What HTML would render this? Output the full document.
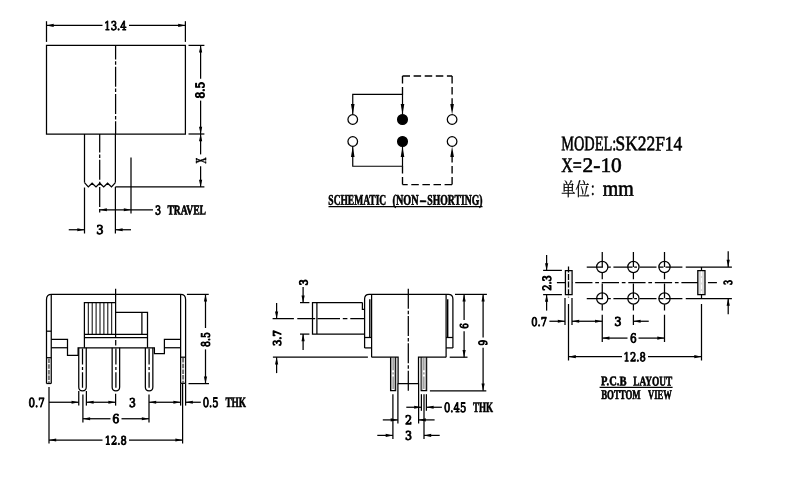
<!DOCTYPE html>
<html lang="zh">
<head>
<meta charset="utf-8">
<title>SK22F14 slide switch drawing</title>
<style>
html,body{margin:0;padding:0;background:#fff;}
body{width:800px;height:480px;overflow:hidden;}
svg{display:block;filter:grayscale(1);}
svg line,svg path,svg circle,svg rect{stroke:#000;stroke-width:1.25;fill:none;}
svg .a{stroke:none;fill:#000;}
svg text{fill:#000;stroke:none;text-rendering:geometricPrecision;font-family:"Liberation Serif","Noto Serif CJK SC",serif;}
svg text.b{font-family:"DejaVu Serif","Liberation Serif",serif;stroke:#000;stroke-width:.9px;stroke-linejoin:round;}
svg text.v{stroke-width:1.05px;}
svg text.l{font-weight:bold;stroke:#000;stroke-width:.6px;stroke-linejoin:round;}
svg tspan.d{font-family:"DejaVu Serif","Liberation Serif",serif;font-weight:normal;stroke-width:.9px;font-size:.9em;}
svg text.m{stroke:#000;stroke-width:.6px;stroke-linejoin:round;}
svg text.r{font-weight:normal;stroke:#000;stroke-width:.2px;}
</style>
</head>
<body>
<svg width="800" height="480" viewBox="0 0 800 480">
<rect x="0" y="0" width="800" height="480" style="fill:#fff;stroke:none"/>
<!-- top view -->
<path d="M46.5 45.4H185.4V134H46.5Z"/>
<line x1="115.6" y1="45.4" x2="115.6" y2="134" stroke-dasharray="20 1.9 3.5 1.9" stroke-dashoffset="6"/>
<line x1="84.5" y1="134" x2="84.5" y2="182.6"/>
<line x1="115.4" y1="134" x2="115.4" y2="182.6"/>
<path d="M84.5 182.6L88.3 186.9L92.1 183.2L96 186.9L99.8 183.2L103.7 186.9L107.6 183.2L111.5 186.9L115.4 182.6"/>
<line x1="99.7" y1="134" x2="99.7" y2="213.5" stroke-dasharray="20 1.9 3.5 1.9" stroke-dashoffset="1.5"/>
<line x1="84.5" y1="187.5" x2="84.5" y2="233.5"/>
<line x1="115.4" y1="186.9" x2="115.4" y2="233.5"/>
<line x1="115.4" y1="186.9" x2="204.4" y2="186.9"/>
<line x1="131" y1="157.5" x2="131" y2="213.5"/>
<line x1="99.7" y1="209.75" x2="153" y2="209.75"/>
<polygon class="a" points="99.7,209.75 106.9,208.15 106.9,211.35"/>
<polygon class="a" points="131,209.75 123.8,208.15 123.8,211.35"/>
<text class="l" transform="rotate(.05 155.11 214.41)" y="214.41" font-size="13.59"><tspan class="d" x="155.11" textLength="6.09" lengthAdjust="spacingAndGlyphs">3</tspan> <tspan x="167.4" textLength="38.61" lengthAdjust="spacingAndGlyphs">TRAVEL</tspan></text>
<line x1="68.75" y1="229.75" x2="84.5" y2="229.75"/>
<polygon class="a" points="84.5,229.75 77.3,228.15 77.3,231.35"/>
<line x1="115.4" y1="229.75" x2="131" y2="229.75"/>
<polygon class="a" points="115.4,229.75 122.6,228.15 122.6,231.35"/>
<text class="b" transform="rotate(.05 96.19 234.04)" x="96.19" y="234.04" font-size="12.24" textLength="7.41" lengthAdjust="spacingAndGlyphs">3</text>
<line x1="46.5" y1="21.2" x2="46.5" y2="41.9"/>
<line x1="185.4" y1="21.2" x2="185.4" y2="41.9"/>
<line x1="46.5" y1="25.4" x2="102.5" y2="25.4"/>
<line x1="129" y1="25.4" x2="185.4" y2="25.4"/>
<polygon class="a" points="46.5,25.4 53.7,23.8 53.7,27"/>
<polygon class="a" points="185.4,25.4 178.2,23.8 178.2,27"/>
<text class="b" transform="rotate(.05 104.34 29.92)" x="104.34" y="29.92" font-size="12.05" textLength="22.28" lengthAdjust="spacingAndGlyphs">13.4</text>
<line x1="188.5" y1="45.4" x2="204.4" y2="45.4"/>
<line x1="188.5" y1="134" x2="204.4" y2="134"/>
<line x1="200.6" y1="45.4" x2="200.6" y2="78.75"/>
<line x1="200.6" y1="100.6" x2="200.6" y2="134"/>
<polygon class="a" points="200.6,45.4 199,52.6 202.2,52.6"/>
<polygon class="a" points="200.6,134 199,126.8 202.2,126.8"/>
<text class="b v" transform="translate(204.16 98.57) rotate(-89.95)" font-size="11.88" textLength="16.87" lengthAdjust="spacingAndGlyphs">8.5</text>
<line x1="200.6" y1="134" x2="200.6" y2="154.4"/>
<line x1="200.6" y1="166.25" x2="200.6" y2="186.9"/>
<polygon class="a" points="200.6,134 199,141.2 202.2,141.2"/>
<polygon class="a" points="200.6,186.9 199,179.7 202.2,179.7"/>
<text class="l v" transform="translate(205.66 163.61) rotate(-89.95)" font-size="15.14" textLength="5.86" lengthAdjust="spacingAndGlyphs">X</text>
<!-- schematic -->
<circle cx="352.75" cy="119.5" r="4.8"/>
<circle cx="452.1" cy="119.5" r="4.8"/>
<circle cx="402.5" cy="119.5" r="4.9" style="fill:#000"/>
<circle cx="352.75" cy="141.5" r="4.8"/>
<circle cx="452.1" cy="141.5" r="4.8"/>
<circle cx="402.5" cy="141.5" r="4.9" style="fill:#000"/>
<path d="M352.75 114.2V94.4H402.5V114.2" style="stroke-width:1.2"/>
<path d="M352.75 146.8V166.25H402.5V146.8" style="stroke-width:1.2"/>
<line x1="402.5" y1="76" x2="452.1" y2="76" style="stroke-width:1.35" stroke-dasharray="7.5 3.6"/>
<line x1="402.5" y1="76" x2="402.5" y2="94.4" style="stroke-width:1.35" stroke-dasharray="7.5 3.6"/>
<line x1="452.1" y1="76" x2="452.1" y2="105" style="stroke-width:1.35" stroke-dasharray="7.5 3.6"/>
<line x1="452.1" y1="184.6" x2="402.5" y2="184.6" style="stroke-width:1.35" stroke-dasharray="7.5 3.6"/>
<line x1="402.5" y1="184.6" x2="402.5" y2="166.25" style="stroke-width:1.35" stroke-dasharray="7.5 3.6"/>
<line x1="452.1" y1="184.6" x2="452.1" y2="156" style="stroke-width:1.35" stroke-dasharray="7.5 3.6"/>
<polygon class="a" points="352.75,114.4 350.95,103.9 354.55,103.9"/>
<polygon class="a" points="352.75,146.6 350.95,157.1 354.55,157.1"/>
<polygon class="a" points="402.5,114.4 400.7,103.9 404.3,103.9"/>
<polygon class="a" points="402.5,146.6 400.7,157.1 404.3,157.1"/>
<polygon class="a" points="452.1,114.4 450.3,103.9 453.9,103.9"/>
<polygon class="a" points="452.1,146.6 450.3,157.1 453.9,157.1"/>
<text class="l" transform="rotate(.05 328.35 204.65)" y="204.65" font-size="14.7"><tspan x="328.35" textLength="57.85" lengthAdjust="spacingAndGlyphs">SCHEMATIC</tspan> <tspan x="392.6" textLength="26.1" lengthAdjust="spacingAndGlyphs">(NON</tspan><tspan x="419.4" textLength="7.2" lengthAdjust="spacingAndGlyphs">-</tspan><tspan x="427.3" textLength="55.2" lengthAdjust="spacingAndGlyphs">SHORTING)</tspan></text>
<line x1="328.5" y1="206.6" x2="482.5" y2="206.6"/>
<!-- model text -->
<text class="m" transform="rotate(.05 561 150)" y="150.3" font-size="20.6"><tspan x="561.2" textLength="55" lengthAdjust="spacingAndGlyphs">MODEL:</tspan><tspan x="615.6" textLength="66.6" lengthAdjust="spacingAndGlyphs">SK22F14</tspan></text>
<text class="m" transform="rotate(.05 561 172)" y="171.9" font-size="20.6"><tspan x="561.2" textLength="20.6" lengthAdjust="spacingAndGlyphs">X=</tspan><tspan x="582.6" textLength="39.2" lengthAdjust="spacingAndGlyphs">2-10</tspan></text>
<text class="m" transform="rotate(.05 561 196)" y="195.8" font-size="18.6"><tspan x="561.3" textLength="42.5" lengthAdjust="spacingAndGlyphs" style="stroke-width:.3px">单位：</tspan><tspan x="602.8" font-size="22" textLength="31" lengthAdjust="spacingAndGlyphs">mm</tspan></text>
<!-- front view -->
<path d="M46.5 383.5V299.4Q46.5 294.4 51.5 294.4H180.6Q185.6 294.4 185.6 299.4V383.3"/>
<line x1="51.25" y1="294.6" x2="51.25" y2="383.5"/>
<line x1="180.6" y1="294.6" x2="180.6" y2="383.3"/>
<line x1="46.5" y1="331.2" x2="51.25" y2="331.2"/>
<line x1="46.5" y1="357.7" x2="51.25" y2="357.7"/>
<line x1="180.6" y1="357.2" x2="185.6" y2="357.2"/>
<line x1="46.5" y1="383.5" x2="51.25" y2="383.5"/>
<line x1="180.6" y1="383.3" x2="185.6" y2="383.3"/>
<line x1="48.9" y1="358.5" x2="48.9" y2="383" style="stroke-width:2;stroke:#777" stroke-dasharray="4.5 1.2"/>
<line x1="183.1" y1="358" x2="183.1" y2="383" style="stroke-width:2;stroke:#777" stroke-dasharray="4.5 1.2"/>
<line x1="115.6" y1="288.75" x2="115.6" y2="337.6"/>
<line x1="115.7" y1="340" x2="115.7" y2="345.6"/>
<path d="M84.4 347.75V302.5H115.6"/>
<line x1="88.3" y1="302.5" x2="88.3" y2="334.4" style="stroke-width:1"/>
<line x1="92.2" y1="302.5" x2="92.2" y2="334.4" style="stroke-width:1"/>
<line x1="96.1" y1="302.5" x2="96.1" y2="334.4" style="stroke-width:1"/>
<line x1="100" y1="302.5" x2="100" y2="334.4" style="stroke-width:1"/>
<line x1="103.9" y1="302.5" x2="103.9" y2="334.4" style="stroke-width:1"/>
<line x1="107.8" y1="302.5" x2="107.8" y2="334.4" style="stroke-width:1"/>
<line x1="111.7" y1="302.5" x2="111.7" y2="334.4" style="stroke-width:1"/>
<line x1="84.4" y1="334.4" x2="147.5" y2="334.4"/>
<line x1="84.4" y1="337.6" x2="147.5" y2="337.6"/>
<path d="M115.6 312.25H147.5V347.75"/>
<line x1="141.9" y1="312.25" x2="141.9" y2="334.4"/>
<path d="M51.25 339.4H67.5V355.4H78.1V347.75H154.4V353.5H164.4V339.4H180.6"/>
<line x1="51.25" y1="347.75" x2="67.5" y2="347.75"/>
<line x1="164.4" y1="347.75" x2="180.6" y2="347.75"/>
<path d="M78.75 347.75V387Q78.75 390.8 82.5 390.8Q86.25 390.8 86.25 387V347.75"/>
<line x1="82.5" y1="348.4" x2="82.5" y2="387.8" stroke-dasharray="16.2 2.3 3 2.3"/>
<path d="M112.15 347.75V387Q112.15 390.8 115.9 390.8Q119.65 390.8 119.65 387V347.75"/>
<line x1="115.9" y1="348.4" x2="115.9" y2="387.8" stroke-dasharray="16.2 2.3 3 2.3"/>
<path d="M145.35 347.75V387Q145.35 390.8 149.1 390.8Q152.85 390.8 152.85 387V347.75"/>
<line x1="149.1" y1="348.4" x2="149.1" y2="387.8" stroke-dasharray="16.2 2.3 3 2.3"/>
<line x1="49" y1="386.9" x2="49" y2="443.5"/>
<line x1="182.6" y1="383.3" x2="182.6" y2="443.5"/>
<line x1="78.75" y1="391" x2="78.75" y2="405.6"/>
<line x1="86.4" y1="391" x2="86.4" y2="405.6"/>
<line x1="82.9" y1="394.4" x2="82.9" y2="422.5"/>
<line x1="115.6" y1="393.75" x2="115.6" y2="405.6"/>
<line x1="149" y1="394.4" x2="149" y2="422.5"/>
<line x1="180.6" y1="383.3" x2="180.6" y2="405.6"/>
<line x1="185.6" y1="383.3" x2="185.6" y2="405.6"/>
<line x1="49" y1="402.25" x2="78.75" y2="402.25"/>
<polygon class="a" points="78.75,402.25 71.55,400.65 71.55,403.85"/>
<text class="b" transform="rotate(.05 28.5 406.99)" x="28.5" y="406.99" font-size="12.55" textLength="16.3" lengthAdjust="spacingAndGlyphs">0.7</text>
<line x1="86.4" y1="402.25" x2="115.6" y2="402.25"/>
<polygon class="a" points="86.4,402.25 93.6,400.65 93.6,403.85"/>
<polygon class="a" points="115.6,402.25 108.4,400.65 108.4,403.85"/>
<text class="b" transform="rotate(.05 129.07 407.02)" x="129.07" y="407.02" font-size="12.22" textLength="6.9" lengthAdjust="spacingAndGlyphs">3</text>
<line x1="149" y1="402.25" x2="180.6" y2="402.25"/>
<polygon class="a" points="149,402.25 156.2,400.65 156.2,403.85"/>
<polygon class="a" points="180.6,402.25 173.4,400.65 173.4,403.85"/>
<line x1="185.6" y1="402.25" x2="200.8" y2="402.25"/>
<polygon class="a" points="185.6,402.25 192.8,400.65 192.8,403.85"/>
<text class="l" transform="rotate(.05 202.72 406.98)" y="406.98" font-size="14.5"><tspan class="d" x="202.72" textLength="15.88" lengthAdjust="spacingAndGlyphs">0.5</tspan> <tspan x="225.4" textLength="20.68" lengthAdjust="spacingAndGlyphs">THK</tspan></text>
<line x1="82.9" y1="418.75" x2="110.5" y2="418.75"/>
<line x1="121.5" y1="418.75" x2="149" y2="418.75"/>
<polygon class="a" points="82.9,418.75 90.1,417.15 90.1,420.35"/>
<polygon class="a" points="149,418.75 141.8,417.15 141.8,420.35"/>
<text class="b" transform="rotate(.05 112.32 423.08)" x="112.32" y="423.08" font-size="12.18" textLength="7.21" lengthAdjust="spacingAndGlyphs">6</text>
<line x1="49" y1="440" x2="102.5" y2="440"/>
<line x1="129" y1="440" x2="182.6" y2="440"/>
<polygon class="a" points="49,440 56.2,438.4 56.2,441.6"/>
<polygon class="a" points="182.6,440 175.4,438.4 175.4,441.6"/>
<text class="b" transform="rotate(.05 104.85 444.48)" x="104.85" y="444.48" font-size="11.7" textLength="21.92" lengthAdjust="spacingAndGlyphs">12.8</text>
<line x1="186.9" y1="294.4" x2="208.75" y2="294.4"/>
<line x1="188.5" y1="383.6" x2="209" y2="383.6"/>
<line x1="205.5" y1="294.4" x2="205.5" y2="328"/>
<line x1="205.5" y1="349.4" x2="205.5" y2="383.6"/>
<polygon class="a" points="205.5,294.4 203.9,301.6 207.1,301.6"/>
<polygon class="a" points="205.5,383.6 203.9,376.4 207.1,376.4"/>
<text class="b v" transform="translate(209.63 346.9) rotate(-89.95)" font-size="11.71" textLength="14.78" lengthAdjust="spacingAndGlyphs">8.5</text>
<!-- side view -->
<path d="M362.4 302.6H312.5V334.1H364.6"/>
<path d="M362.4 302.6V309.3H364.6"/>
<line x1="316.9" y1="302.6" x2="316.9" y2="334.1"/>
<path d="M272.6 318.7H293.9M297.3 318.7H315.2M317.5 318.7H340M342.8 318.7H347.4M350.3 318.7H364.6"/>
<path d="M364.6 347.9V299Q364.6 294.4 369.2 294.4H448.3Q452.9 294.4 452.9 299V347.9"/>
<line x1="371.6" y1="294.4" x2="371.6" y2="357.2"/>
<line x1="446.1" y1="294.4" x2="446.1" y2="357.2"/>
<line x1="369.8" y1="299.2" x2="369.8" y2="337.5" style="stroke-width:1.4"/>
<line x1="447.7" y1="299.2" x2="447.7" y2="337.5" style="stroke-width:1.4"/>
<line x1="364.6" y1="337.5" x2="371.6" y2="337.5"/>
<line x1="446.1" y1="337.5" x2="452.9" y2="337.5"/>
<line x1="364.6" y1="347.9" x2="371.6" y2="347.9"/>
<line x1="446.1" y1="347.9" x2="452.9" y2="347.9"/>
<path d="M371.6 357.2H398.1V383.5H418.5V357.2H446.1"/>
<line x1="408.3" y1="288.75" x2="408.3" y2="391" stroke-dasharray="20 1.9 3.5 1.9"/>
<path d="M390.6 357.2V390.6H395.6V357.2"/>
<line x1="391.5" y1="358" x2="391.5" y2="390" style="stroke-width:0.9;stroke:#9a9a9a"/>
<line x1="394.7" y1="358" x2="394.7" y2="390" style="stroke-width:0.9;stroke:#9a9a9a"/>
<line x1="393.1" y1="357.8" x2="393.1" y2="390" style="stroke-width:1;stroke:#666" stroke-dasharray="12.5 2 2.2 2"/>
<path d="M421.2 357.2V390.6H426.6V357.2"/>
<line x1="422.1" y1="358" x2="422.1" y2="390" style="stroke-width:0.9;stroke:#9a9a9a"/>
<line x1="425.7" y1="358" x2="425.7" y2="390" style="stroke-width:0.9;stroke:#9a9a9a"/>
<line x1="423.9" y1="357.8" x2="423.9" y2="390" style="stroke-width:1;stroke:#666" stroke-dasharray="12.5 2 2.2 2"/>
<line x1="300" y1="302.6" x2="309.4" y2="302.6"/>
<line x1="300" y1="334.1" x2="309.4" y2="334.1"/>
<line x1="303.1" y1="286.9" x2="303.1" y2="302.6"/>
<polygon class="a" points="303.1,302.6 301.5,295.4 304.7,295.4"/>
<line x1="303.1" y1="334.1" x2="303.1" y2="350"/>
<polygon class="a" points="303.1,334.1 301.5,341.3 304.7,341.3"/>
<text class="b v" transform="translate(307.42 285.61) rotate(-89.95)" font-size="10.98" textLength="6.22" lengthAdjust="spacingAndGlyphs">3</text>
<line x1="272.9" y1="357.2" x2="367.9" y2="357.2"/>
<line x1="276.6" y1="303" x2="276.6" y2="318.7"/>
<polygon class="a" points="276.6,318.7 275,311.5 278.2,311.5"/>
<line x1="276.6" y1="357.2" x2="276.6" y2="373.1"/>
<polygon class="a" points="276.6,357.2 275,364.4 278.2,364.4"/>
<text class="b v" transform="translate(280.91 346.08) rotate(-89.95)" font-size="10.8" textLength="16" lengthAdjust="spacingAndGlyphs">3.7</text>
<line x1="455" y1="294.4" x2="486.9" y2="294.4"/>
<line x1="449.7" y1="357.2" x2="467.5" y2="357.2"/>
<line x1="429.9" y1="390.8" x2="486.3" y2="390.8"/>
<line x1="464.1" y1="294.4" x2="464.1" y2="320"/>
<line x1="464.1" y1="331.2" x2="464.1" y2="357.2"/>
<polygon class="a" points="464.1,294.4 462.5,301.6 465.7,301.6"/>
<polygon class="a" points="464.1,357.2 462.5,350 465.7,350"/>
<text class="b v" transform="translate(468.03 328.64) rotate(-89.95)" font-size="10.84" textLength="5.59" lengthAdjust="spacingAndGlyphs">6</text>
<line x1="483.1" y1="294.4" x2="483.1" y2="337.5"/>
<line x1="483.1" y1="347.8" x2="483.1" y2="390.8"/>
<polygon class="a" points="483.1,294.4 481.5,301.6 484.7,301.6"/>
<polygon class="a" points="483.1,390.8 481.5,383.6 484.7,383.6"/>
<text class="b v" transform="translate(487.11 345.55) rotate(-89.95)" font-size="11.4" textLength="5.59" lengthAdjust="spacingAndGlyphs">9</text>
<line x1="392.9" y1="394.2" x2="392.9" y2="439.1"/>
<line x1="424" y1="394.2" x2="424" y2="439.1"/>
<line x1="397.9" y1="383.5" x2="397.9" y2="423.5"/>
<line x1="418.6" y1="383.5" x2="418.6" y2="423.5"/>
<line x1="421.4" y1="394.2" x2="421.4" y2="410.8"/>
<line x1="426.4" y1="394.2" x2="426.4" y2="410.8"/>
<line x1="406.3" y1="407.25" x2="421.4" y2="407.25"/>
<polygon class="a" points="421.4,407.25 414.2,405.65 414.2,408.85"/>
<line x1="426.4" y1="407.25" x2="441.9" y2="407.25"/>
<polygon class="a" points="426.4,407.25 433.6,405.65 433.6,408.85"/>
<text class="l" transform="rotate(.05 443.92 412.07)" y="412.07" font-size="14.45"><tspan class="d" x="443.92" textLength="22.38" lengthAdjust="spacingAndGlyphs">0.45</tspan> <tspan x="473" textLength="20.18" lengthAdjust="spacingAndGlyphs">THK</tspan></text>
<line x1="382.8" y1="419.9" x2="397.9" y2="419.9"/>
<polygon class="a" points="397.9,419.9 390.7,418.3 390.7,421.5"/>
<line x1="418.6" y1="419.9" x2="434.6" y2="419.9"/>
<polygon class="a" points="418.6,419.9 425.8,418.3 425.8,421.5"/>
<text class="b" transform="rotate(.05 405.12 424.24)" x="405.12" y="424.24" font-size="12.37" textLength="7.2" lengthAdjust="spacingAndGlyphs">2</text>
<line x1="377.3" y1="435.4" x2="392.9" y2="435.4"/>
<polygon class="a" points="392.9,435.4 385.7,433.8 385.7,437"/>
<line x1="424" y1="435.4" x2="439.7" y2="435.4"/>
<polygon class="a" points="424,435.4 431.2,433.8 431.2,437"/>
<text class="b" transform="rotate(.05 404.98 439.78)" x="404.98" y="439.78" font-size="11.99" textLength="7.03" lengthAdjust="spacingAndGlyphs">3</text>
<!-- pcb layout -->
<circle cx="602.25" cy="267" r="5.6"/>
<circle cx="633.4" cy="267" r="5.6"/>
<circle cx="664.5" cy="267" r="5.6"/>
<path d="M586.75 267H603M608 267H610.8M613.4 267H632.5M634.2 267H637M639.5 267H656.5M658.6 267H663.5M665.5 267H682.4M685.75 267H731.9"/>
<circle cx="602.25" cy="298.5" r="5.6"/>
<circle cx="633.4" cy="298.5" r="5.6"/>
<circle cx="664.5" cy="298.5" r="5.6"/>
<path d="M586.75 298.5H603M608 298.5H610.8M613.4 298.5H632.5M634.2 298.5H637M639.5 298.5H656.5M658.6 298.5H663.5M665.5 298.5H682.4M685.75 298.5H731.9"/>
<path d="M602.25 252V267M602.25 272.6V279.3M602.25 283.4V298.3M602.25 304.3V310.5M602.25 314.7V341.9"/>
<path d="M633.4 252V267M633.4 272.6V279.3M633.4 283.4V298.3M633.4 304.3V310.5M633.4 314.7V325"/>
<path d="M664.5 252V267M664.5 272.6V279.3M664.5 283.4V298.3M664.5 304.3V310.5M664.5 314.7V341.9"/>
<line x1="556.9" y1="282.5" x2="716.9" y2="282.5" stroke-dasharray="17.25 2.8 3.7 2.8" stroke-dashoffset="8.25"/>
<path d="M565.4 270.6H572.1V294.5H565.4Z" style="fill:#f1f1f1"/>
<path d="M697.8 270.6H705V294.5H697.8Z" style="fill:#dcdcdc"/>
<line x1="568.5" y1="266.4" x2="568.5" y2="297.6" stroke-dasharray="6 1.6"/>
<line x1="701.5" y1="271.5" x2="701.5" y2="294" style="stroke-width:1.1;stroke:#fff" stroke-dasharray="4.5 2"/>
<line x1="701.5" y1="267" x2="701.5" y2="270.6"/>
<line x1="701.5" y1="294.5" x2="701.5" y2="298.5"/>
<line x1="568.5" y1="304" x2="568.5" y2="360.5"/>
<line x1="701.5" y1="304" x2="701.5" y2="360.5"/>
<line x1="543.1" y1="270.4" x2="561.9" y2="270.4"/>
<line x1="543.1" y1="294.6" x2="561.9" y2="294.6"/>
<line x1="546.6" y1="255" x2="546.6" y2="270.4"/>
<polygon class="a" points="546.6,270.4 545,263.2 548.2,263.2"/>
<line x1="546.6" y1="294.6" x2="546.6" y2="310.6"/>
<polygon class="a" points="546.6,294.6 545,301.8 548.2,301.8"/>
<text class="b v" transform="translate(550.94 290.71) rotate(-89.95)" font-size="11.47" textLength="15.52" lengthAdjust="spacingAndGlyphs">2.3</text>
<line x1="565" y1="298.1" x2="565" y2="325"/>
<line x1="572" y1="298.1" x2="572" y2="325"/>
<line x1="549.4" y1="321.25" x2="565" y2="321.25"/>
<polygon class="a" points="565,321.25 557.8,319.65 557.8,322.85"/>
<text class="b" transform="rotate(.05 531.2 325.95)" x="531.2" y="325.95" font-size="11.95" textLength="15.82" lengthAdjust="spacingAndGlyphs">0.7</text>
<line x1="572" y1="321.25" x2="602.25" y2="321.25"/>
<polygon class="a" points="572,321.25 579.2,319.65 579.2,322.85"/>
<polygon class="a" points="602.25,321.25 595.05,319.65 595.05,322.85"/>
<text class="b" transform="rotate(.05 614.29 325.8)" x="614.29" y="325.8" font-size="12" textLength="7.31" lengthAdjust="spacingAndGlyphs">3</text>
<line x1="633.4" y1="321.25" x2="648.75" y2="321.25"/>
<polygon class="a" points="633.4,321.25 640.6,319.65 640.6,322.85"/>
<line x1="602.25" y1="338.1" x2="627.5" y2="338.1"/>
<line x1="638.5" y1="338.1" x2="664.5" y2="338.1"/>
<polygon class="a" points="602.25,338.1 609.45,336.5 609.45,339.7"/>
<polygon class="a" points="664.5,338.1 657.3,336.5 657.3,339.7"/>
<text class="b" transform="rotate(.05 629.96 342.59)" x="629.96" y="342.59" font-size="12.46" textLength="6.73" lengthAdjust="spacingAndGlyphs">6</text>
<line x1="568.6" y1="356.7" x2="622" y2="356.7"/>
<line x1="648" y1="356.7" x2="701.5" y2="356.7"/>
<polygon class="a" points="568.6,356.7 575.8,355.1 575.8,358.3"/>
<polygon class="a" points="701.5,356.7 694.3,355.1 694.3,358.3"/>
<text class="b" transform="rotate(.05 623.6 361.36)" x="623.6" y="361.36" font-size="12.22" textLength="22.14" lengthAdjust="spacingAndGlyphs">12.8</text>
<line x1="728.2" y1="251.3" x2="728.2" y2="267"/>
<polygon class="a" points="728.2,267 726.6,259.8 729.8,259.8"/>
<line x1="728.2" y1="298.5" x2="728.2" y2="314.2"/>
<polygon class="a" points="728.2,298.5 726.6,305.7 729.8,305.7"/>
<text class="b v" transform="translate(732.06 284.94) rotate(-89.95)" font-size="11.15" textLength="5.09" lengthAdjust="spacingAndGlyphs">3</text>
<text class="l" transform="rotate(.05 601.1 385.37)" y="385.37" font-size="13.32"><tspan x="601.1" textLength="25.3" lengthAdjust="spacingAndGlyphs">P.C.B</tspan> <tspan x="633.2" textLength="39.04" lengthAdjust="spacingAndGlyphs">LAYOUT</tspan></text>
<line x1="599.6" y1="387.4" x2="672.6" y2="387.4"/>
<text class="l" transform="rotate(.05 601.14 398.96)" y="398.96" font-size="13.32"><tspan x="601.14" textLength="39.56" lengthAdjust="spacingAndGlyphs">BOTTOM</tspan> <tspan x="648.1" textLength="23.75" lengthAdjust="spacingAndGlyphs">VIEW</tspan></text>
</svg>
</body>
</html>
